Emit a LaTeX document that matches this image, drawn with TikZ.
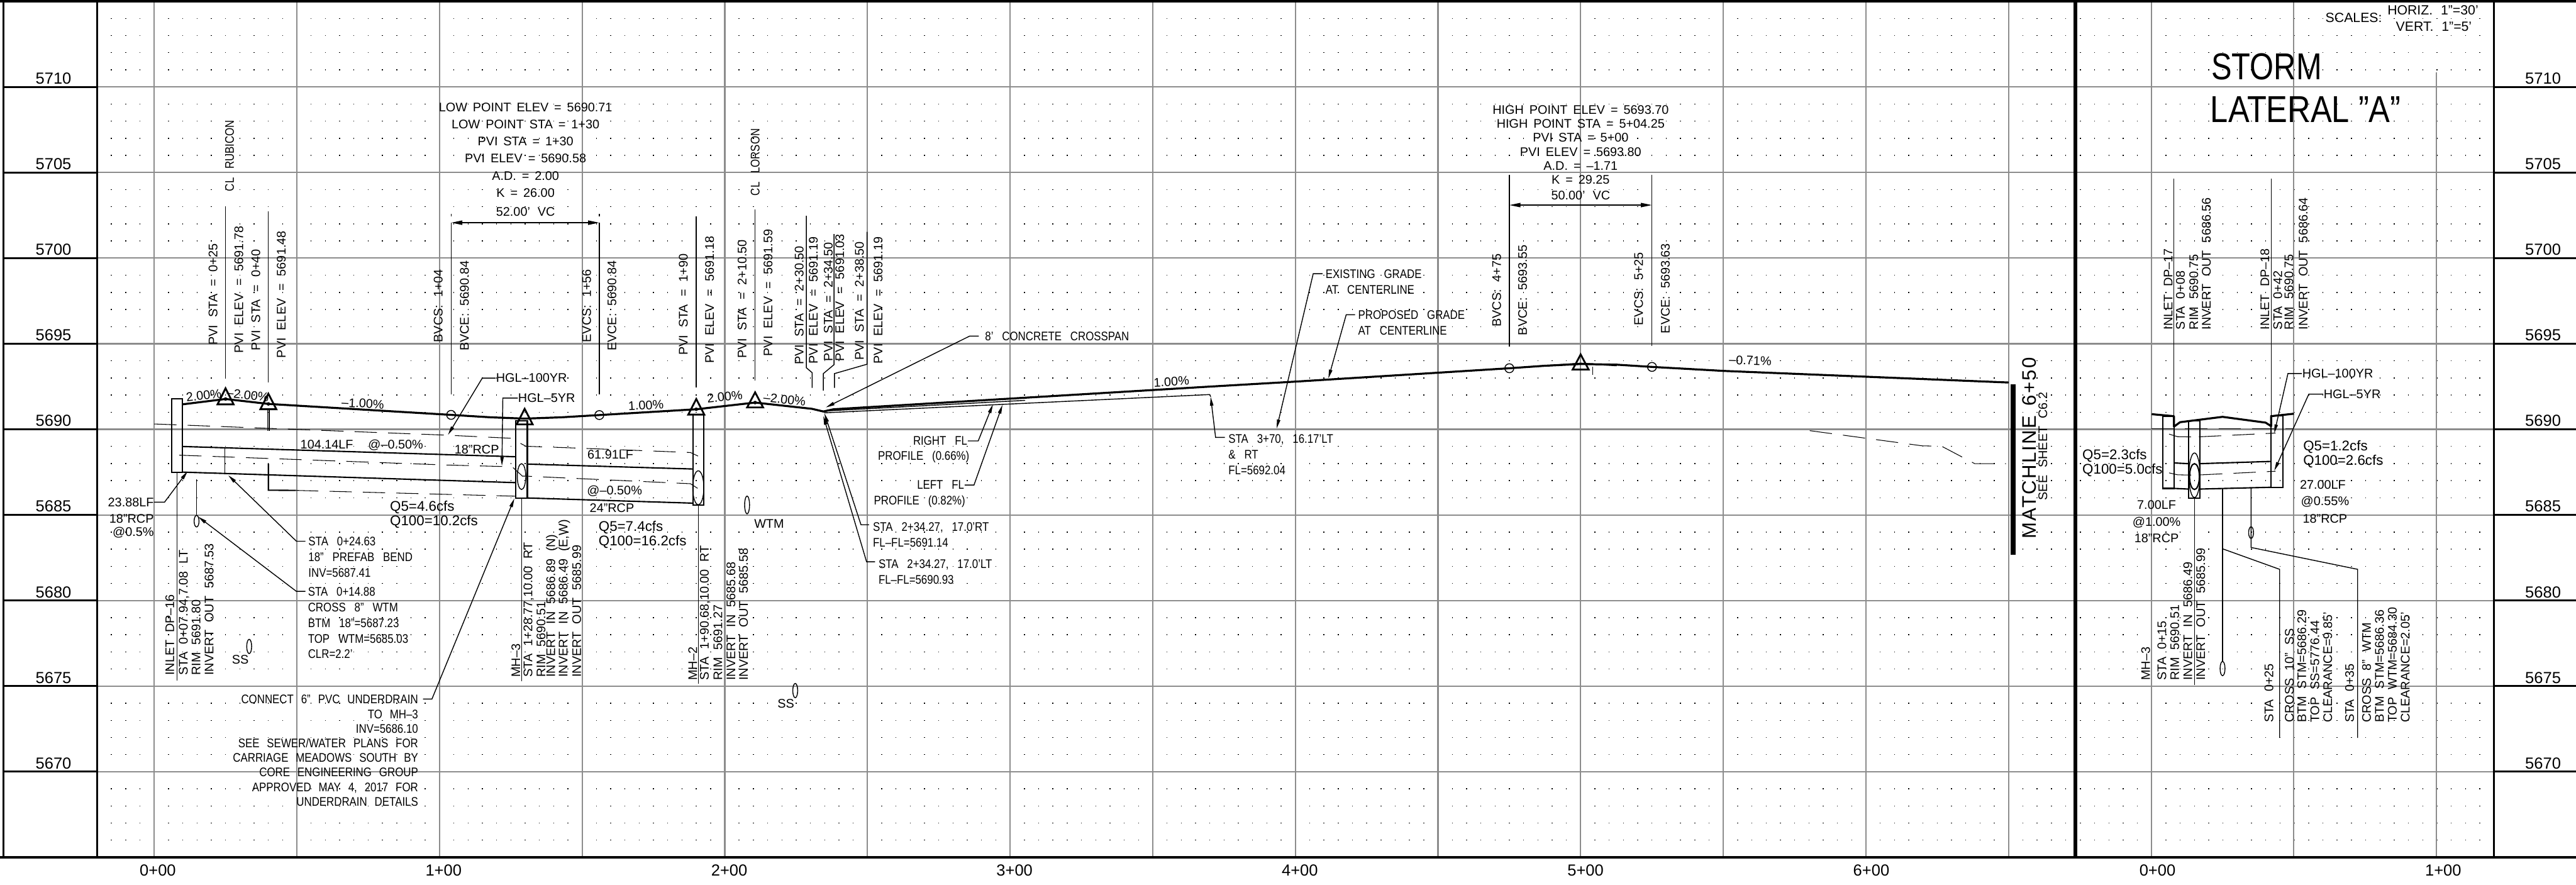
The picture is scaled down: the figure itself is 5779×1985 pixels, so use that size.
\documentclass[tikz,border=0pt]{standalone}
\usepackage{fontspec}
\setmainfont{Liberation Sans}
\newfontfamily\capsfont[FakeStretch=0.85]{Liberation Sans}
\newfontfamily\matchfont[LetterSpace=7]{Liberation Sans}
\usetikzlibrary{arrows.meta}
\definecolor{gridgray}{HTML}{8C8C8C}
\newcommand{\smalltext}{\fontsize{5.6}{7}\selectfont\spaceskip=.6em\relax}
\newcommand{\capstext}{\capsfont\fontsize{5.6}{7}\selectfont\spaceskip=.7em\relax}
\newcommand{\flowtext}{\fontsize{6.3}{6.5}\selectfont}
\newcommand{\wideleadtext}{\fontsize{5.6}{7.65}\selectfont\spaceskip=.45em\relax}
\newcommand{\highpttext}{\fontsize{5.6}{6.3}\selectfont\spaceskip=.45em\relax}
\newcommand{\connecttext}{\capsfont\fontsize{5.6}{6.55}\selectfont\spaceskip=.6em\relax}
\newcommand{\scaletext}{\fontsize{7.2}{8}\selectfont}
\newcommand{\titletext}{\fontsize{16.8}{20}\selectfont}
\newcommand{\matchtext}{\matchfont\fontsize{8.8}{10}\selectfont\spaceskip=.5em\relax}
\newcommand{\hscaletext}{\fontsize{6}{7}\selectfont\spaceskip=.6em\relax}
\tikzset{
    gridline/.style ={draw=gridgray, line width=.6pt},
    frameline/.style ={draw=black, line width=.9pt},
    dotrow/.style ={line width=.4pt, dash pattern=on .4pt off 6pt},
    profile/.style ={line width=.9pt, line join=round},
    pipe/.style ={line width=.6pt},
    tagline/.style ={line width=.4pt},
    hgl/.style ={line width=.3pt, dash pattern=on 10pt off 5pt},
    leader/.style ={line width=.4pt, -{Stealth[length=4pt,width=1.5pt,inset=0pt]}},
    dimline/.style ={line width=.5pt, {Stealth[length=5pt,width=1.9pt,inset=0pt]}-{Stealth[length=5pt,width=1.9pt,inset=0pt]}},
    vlabel/.style ={anchor=west, rotate=90, inner sep=0pt, font=\smalltext},
    lbl/.style ={anchor=west, inner sep=0pt, font=\smalltext},
    lblr/.style ={anchor=east, inner sep=0pt, font=\smalltext},
    lblc/.style ={inner sep=0pt, font=\smalltext},
    note/.style ={anchor=north west, inner sep=0pt, align=left, font=\capstext},
    flow/.style ={anchor=west, inner sep=0pt, font=\flowtext},
    scalelbl/.style ={inner sep=0pt, font=\scaletext}
}
\begin{document}
\begin{tikzpicture}[x=0.2pt,y=-0.2pt]
    \useasboundingbox (0,0) rectangle (5779,1985);
    \fill[white] (0,0) rectangle (5779,1985);
    \foreach \j in {0,...,48} {
        \draw[dotrow] (249,{41.4+38.4*\j})--(4640,{41.4+38.4*\j});
        \draw[dotrow] (4666,{41.4+38.4*\j})--(5570,{41.4+38.4*\j});
    }
    \foreach \gx in {346,666,...,4506,4827,5146} \draw[gridline] (\gx,4)--(\gx,1923);
    \draw[gridline] (5466,162)--(5466,1923);
    \foreach \gy in {195,387,579,771,963,1155,1347,1539,1731} \draw[gridline] (218,\gy)--(5595,\gy);
    \foreach \gy in {195,387,579,771,963,1155,1347,1539,1731} {
        \draw[frameline] (8,\gy)--(218,\gy);
        \draw[frameline] (5595,\gy)--(5779,\gy);
    }
    \draw[draw=black,line width=1.2pt] (0,3)--(5779,3);
    \draw[frameline] (0,1923)--(5779,1923);
    \draw[frameline] (8,3)--(8,1923);
    \draw[frameline] (218,3)--(218,1923);
    \draw[frameline] (5595,3)--(5595,1923);
    \draw[draw=black,line width=1.6pt] (4656,3)--(4656,1923);
    \foreach \ev/\ey in {5710/176,5705/368,5700/560,5695/752,5690/944,5685/1136,5680/1328,5675/1520,5670/1712} {
        \node[scalelbl] (L\ev) at(120,\ey) {\ev};
        \node[scalelbl] (R\ev) at(5705,\ey) {\ev};
    }
    \node[scalelbl] (ST0) at(354,1952) {0+00};
    \node[scalelbl] (ST1) at(995,1952) {1+00};
    \node[scalelbl] (ST2) at(1636,1952) {2+00};
    \node[scalelbl] (ST3) at(2276,1952) {3+00};
    \node[scalelbl] (ST4) at(2916,1952) {4+00};
    \node[scalelbl] (ST5) at(3557,1952) {5+00};
    \node[scalelbl] (ST6) at(4198,1952) {6+00};
    \node[scalelbl] (STR0) at(4840,1952) {0+00};
    \node[scalelbl] (STR1) at(5481,1952) {1+00};

    \draw[profile] (409,907)--(506,895)--(602,906)--(1012,930.6)--(1100,936)--(1177,939)--(1260,936)--(1344.5,931)--(1562,918)--(1694,903)--(1821.5,917)--(1847,923)--(1870,918)--(2700,868)--(2906,856)--(3386,826)--(3465,820.5)--(3546,816.5)--(3627,818)--(3706,823)--(3867,832)--(4506,858);
    \draw[pipe] (3465,820.6)--(3546,815)--(3627,820);
    \draw[tagline] (3573,823)--(3573,841);
    \draw[tagline] (1849,926)--(2714,885)--(2716,890);
    \draw[tagline] (1849,922)--(2300,898);
    \foreach \mx/\ma/\mb in {506/871/907,602/883/918,1177/917/952,1562/895/930,1694/880/914,3546/795/829} {
        \draw[pipe,line width=.8pt] (\mx-18,\mb)--(\mx,\ma)--(\mx+18,\mb)--cycle;
    }
    \foreach \mx/\my in {506/895,602/906,1562/918,1694/903} \fill (\mx,\my) circle[radius=4];
    \foreach \mx/\my in {1012/930.6,1344.5/931,3386/826,3706/823} \draw[tagline] (\mx,\my) circle[radius=10];

    \draw[pipe] (385,894) rectangle (409,1059);
    \draw[pipe] (409,1001.5)--(1157,1024.5);
    \draw[pipe] (409,1059)--(1157,1082.6);
    \draw[tagline] (504,1005)--(504,1062);
    \draw[pipe] (1157,944) rectangle (1183,1117);
    \draw[pipe] (1183,1041)--(1554.5,1052);
    \draw[pipe] (1183,1117)--(1554.5,1128.6);
    \draw[pipe] (1554.5,930) rectangle (1579,1133);
    \draw[tagline] (1170,1069) ellipse[x radius=9.5,y radius=29];
    \draw[tagline] (1566.5,1094) ellipse[x radius=12.5,y radius=38];
    \draw[tagline] (600,918)--(600,967);
    \draw[tagline] (604,918)--(604,967);
    \draw[pipe] (602,1040)--(602,1099.5)--(664,1100);
    \draw[hgl] (664,1100)--(1157,1113);
    \draw[hgl] (346,951)--(1000,976)--(1145.5,983)--(1180,1001)--(1279,1004.5)--(1447,1011)--(1549,1015)--(1566,1023);
    \draw[hgl] (402,1021)--(1000,1043)--(1149,1047)--(1172,1068)--(1180,1068)--(1549,1085)--(1566,1096);
    \draw[hgl] (4060,966)--(4312,1000)--(4356,1001)--(4430,1040)--(4500,1040);

    \node[lblc,rotate=7] (G1) at(457,887) {2.00\%};
    \node[lblc,rotate=-7] (G2) at(556,886) {–2.00\%};
    \node[lblc,rotate=-3] (G3) at(814,905) {–1.00\%};
    \node[lblc,rotate=3] (G4) at(1449,909) {1.00\%};
    \node[lblc,rotate=6] (G5) at(1626,890) {2.00\%};
    \node[lblc,rotate=-6] (G6) at(1760,896) {–2.00\%};
    \node[lblc,rotate=3] (G7) at(2628,856) {1.00\%};
    \node[lbl,rotate=-2] (G8) at(3878,807) {–0.71\%};

    \node[vlabel,font=\capstext] (CLRUB) at(515,430) {CL RUBICON};
    \node[vlabel] (PS025) at(478,775) {PVI STA = 0+25};
    \draw[tagline] (506,463)--(506,848);
    \node[vlabel] (PE025) at(536,793) {PVI ELEV = 5691.78};
    \node[vlabel] (PS040) at(574,787) {PVI STA = 0+40};
    \draw[tagline] (602,474)--(602,858);
    \node[vlabel] (PE040) at(631,804) {PVI ELEV = 5691.48};
    \node[vlabel] (BV104) at(983,769) {BVCS: 1+04};
    \node[vlabel] (BE104) at(1042,788) {BVCE: 5690.84};
    \draw[tagline] (1012,480)--(1012,486);
    \draw[tagline] (1012,499.5)--(1012,884);
    \draw[tagline] (1344.5,480)--(1344.5,486);
    \draw[tagline] (1344.5,499.5)--(1344.5,884);
    \draw[dimline] (1012,499.5)--(1344.5,499.5);
    \node[vlabel] (EV156) at(1316,769) {EVCS: 1+56};
    \node[vlabel] (EE156) at(1373,788) {EVCE: 5690.84};
    \node[vlabel] (PS190) at(1533,798) {PVI STA = 1+90};
    \draw[tagline] (1562,486)--(1562,869);
    \node[vlabel] (PE190) at(1592,816) {PVI ELEV = 5691.18};
    \node[vlabel,font=\capstext] (CLLOR) at(1694,440) {CL LORSON};
    \node[vlabel] (PS210) at(1665,805) {PVI STA = 2+10.50};
    \draw[tagline] (1694,470)--(1694,854);
    \node[vlabel] (PE210) at(1723,800) {PVI ELEV = 5691.59};
    \node[vlabel] (PS230) at(1793,819) {PVI STA = 2+30.50};
    \draw[tagline] (1809,484)--(1809,825)--(1822,836)--(1822,870);
    \node[vlabel] (PE230) at(1824.5,817) {PVI ELEV = 5691.19};
    \node[vlabel] (PS234) at(1858,811) {PVI STA = 2+34.50};
    \draw[tagline] (1871,525)--(1871,818)--(1847,838)--(1847,876);
    \node[vlabel] (PE234) at(1884,811) {PVI ELEV = 5691.03};
    \node[vlabel] (PS238) at(1928,809) {PVI STA = 2+38.50};
    \draw[tagline] (1945,520)--(1945,817)--(1872,838)--(1872,870);
    \node[vlabel] (PE238) at(1970,817) {PVI ELEV = 5691.19};
    \node[vlabel] (BV475) at(3357.5,734) {BVCS: 4+75};
    \draw[tagline] (3386,392)--(3386,778);
    \node[vlabel] (BE475) at(3415.6,753) {BVCE: 5693.55};
    \node[vlabel] (EV525) at(3676,731) {EVCS: 5+25};
    \draw[tagline] (3706,392)--(3706,776);
    \node[vlabel] (EE525) at(3736,749) {EVCE: 5693.63};
    \draw[dimline] (3386,460)--(3706,460);

    \node[inner sep=0pt,anchor=north,align=center,font=\wideleadtext] (LOWPT) at(1179,230) {LOW POINT ELEV = 5690.71\\LOW POINT STA = 1+30\\PVI STA = 1+30\\PVI ELEV = 5690.58\\A.D. = 2.00\\K = 26.00};
    \node[lblc] (VC52) at(1179,475.5) {52.00’ VC};
    \node[inner sep=0pt,anchor=north,align=center,font=\highpttext] (HIGHPT) at(3546,235) {HIGH POINT ELEV = 5693.70\\HIGH POINT STA = 5+04.25\\PVI STA = 5+00\\PVI ELEV = 5693.80\\A.D. = –1.71\\K = 29.25};
    \node[lblc] (VC50) at(3546,438) {50.00’ VC};

    \coordinate (HGL100) at(1005,975.5);
    \coordinate (HGL5) at(1126,1045);
    \node[lbl] (HGLA) at(1112,848) {HGL–100YR};
    \node[lbl] (HGLB) at(1161.5,893) {HGL–5YR};
    \draw[leader] (HGLA.west)--(1082,848)--(HGL100);
    \draw[leader] (HGLB.west)--(1128,893)--(HGL5);
    \node[lbl] (LF104) at(673,998) {104.14LF\ \ @–0.50\%};
    \node[lbl] (RCP18) at(1019,1009) {18”RCP};
    \node[lbl] (LF61) at(1317,1019) {61.91LF};
    \node[lbl] (SL050) at(1316,1102) {@–0.50\%};
    \node[lbl] (RCP24) at(1322,1140) {24”RCP};
    \node[flow] (Q46) at(874,1138) {Q5=4.6cfs};
    \node[flow] (Q102) at(874,1171) {Q100=10.2cfs};
    \node[flow] (Q74) at(1342,1183) {Q5=7.4cfs};
    \node[flow] (Q162) at(1342,1215) {Q100=16.2cfs};
    \node[lblr] (LF23) at(346,1126.5) {23.88LF};
    \node[lblr] (RCP18A) at(346,1163) {18”RCP};
    \node[lblr] (SL05) at(346,1195) {@0.5\%};
    \coordinate (INLETPIPE) at(421,1057);
    \draw[leader] (LF23.east)--(369,1126.5)--(INLETPIPE);
    \draw[tagline] (397,1059)--(397,1527);
    \draw[tagline] (441,1075.5)--(441,1155.6);
    \draw[tagline] (441,1169) ellipse[x radius=5.5,y radius=13];
    \node[note] (BEND) at(691,1204) {STA 0+24.63\\18” PREFAB BEND\\INV=5687.41};
    \coordinate (BENDPT) at(512,1066);
    \draw[leader] (BEND.north west)++(-6,10)--++(-20,0)--(BENDPT);
    \node[note] (CROSS8) at(690,1316.5) {STA 0+14.88\\CROSS 8” WTM\\BTM 18”=5687.23\\TOP WTM=5685.03\\CLR=2.2’};
    \coordinate (CROSSPT) at(444.5,1159);
    \draw[leader] (CROSS8.north west)++(-5,10)--++(-20,0)--(CROSSPT);
    \node[vlabel] (INL16) at(381,1516) {INLET DP–16};
    \node[vlabel] (INL16A) at(413,1516) {STA 0+07.94,7.08 LT};
    \node[vlabel] (INL16B) at(440,1516) {RIM 5691.80};
    \node[vlabel] (INL16C) at(469,1516) {INVERT OUT 5687.53};
    \node[lblc] (SSA) at(539,1480) {SS};
    \draw[tagline] (559,1450) ellipse[x radius=5.5,y radius=16];
    \node[inner sep=0pt,anchor=north east,align=right,font=\connecttext] (UNDER) at(939,1558) {CONNECT 6” PVC UNDERDRAIN\\TO MH–3\\INV=5686.10\\SEE SEWER/WATER PLANS FOR\\CARRIAGE MEADOWS SOUTH BY\\CORE ENGINEERING GROUP\\APPROVED MAY 4, 2017 FOR\\UNDERDRAIN DETAILS};
    \coordinate (UNDERPT) at(1154,1118);
    \draw[leader] (UNDER.north east)++(10,10)--++(20,0)--(UNDERPT);
    \node[vlabel] (MH3) at(1157.5,1520) {MH–3};
    \draw[tagline] (1170,1117)--(1170,1528);
    \node[vlabel] (MH3A) at(1186,1520) {STA 1+28.77,10.00 RT};
    \node[vlabel] (MH3B) at(1213.6,1520) {RIM 5690.51};
    \node[vlabel] (MH3C) at(1238,1520) {INVERT IN 5686.89 (N)};
    \node[vlabel] (MH3D) at(1266,1520) {INVERT IN 5686.49 (E,W)};
    \node[vlabel] (MH3E) at(1294,1520) {INVERT OUT 5685.99};
    \node[vlabel] (MH2) at(1554,1527) {MH–2};
    \draw[tagline] (1566.5,1133)--(1566.5,1533);
    \node[vlabel] (MH2A) at(1582,1527) {STA 1+90.68,10.00 RT};
    \node[vlabel] (MH2B) at(1610.6,1527) {RIM 5691.27};
    \node[vlabel] (MH2C) at(1640,1527) {INVERT IN 5685.68};
    \node[vlabel] (MH2D) at(1668,1527) {INVERT OUT 5685.58};
    \node[lbl] (WTM) at(1691,1175) {WTM};
    \draw[tagline] (1676,1132.6) ellipse[x radius=5.5,y radius=20];
    \node[lblc] (SSB) at(1763,1579) {SS};
    \draw[tagline] (1784,1549) ellipse[x radius=5.5,y radius=16];

    \coordinate (CROSSPAN) at(1852.5,914);
    \node[lbl,font=\capstext] (CONC) at(2209,754) {8’ CONCRETE CROSSPAN};
    \draw[leader] (CONC.west)++(-13,0)--(2175,754)--(CROSSPAN);
    \coordinate (RIGHTPT) at(2227.5,907);
    \coordinate (LEFTPT) at(2249,908);
    \node[lblr,font=\capstext] (RFL) at(2171,989) {RIGHT FL};
    \node[lblr,font=\capstext] (RPROF) at(2175.6,1025) {PROFILE (0.66\%)};
    \node[lblr,font=\capstext] (LFL) at(2164,1088) {LEFT FL};
    \node[lblr,font=\capstext] (LPROF) at(2166.5,1124.5) {PROFILE (0.82\%)};
    \draw[leader] (RFL.east)--(2194.5,989)--(RIGHTPT);
    \draw[leader] (LFL.east)--(2185,1088)--(LEFTPT);
    \coordinate (RTPT) at(1849.5,927);
    \coordinate (LTPT) at(1847,933);
    \node[note] (RT234) at(1957.5,1171) {STA 2+34.27, 17.0’RT\\FL–FL=5691.14};
    \node[note] (LT234) at(1970,1254) {STA 2+34.27, 17.0’LT\\FL–FL=5690.93};
    \draw[leader] (RT234.north west)++(-8,6)--(1931.5,1177)--(RTPT);
    \draw[leader] (LT234.north west)++(-7,6)--(1944,1260)--(LTPT);
    \coordinate (FLPT) at(2716,890);
    \node[note] (STA370) at(2755,974) {STA 3+70, 16.17’LT\\\& RT\\FL=5692.04};
    \draw[leader] (STA370.north west)++(-7,7)--(2727,981)--(FLPT);
    \coordinate (EXPT) at(2864,961);
    \coordinate (PROPPT) at(2980,849);
    \node[note] (EXIST) at(2973,604) {EXISTING GRADE\\AT CENTERLINE};
    \node[note] (PROP) at(3046,696) {PROPOSED GRADE\\AT CENTERLINE};
    \draw[leader] (EXIST.north west)++(-6,10)--(2946,614)--(EXPT);
    \draw[leader] (PROP.north west)++(-6,10)--(3020,706)--(PROPPT);

    \draw[line width=2.2pt] (4516,861.5)--(4516,1245);
    \node[vlabel,font=\matchtext] (MATCH) at(4552,1209) {MATCHLINE 6+50};
    \node[vlabel] (SEESH) at(4583,1123) {SEE SHEET C6.2};

    \draw[profile] (4827,929)--(4877,933.5)--(4877,957)--(4890.7,947)--(4986,935)--(5082.7,948)--(5095,956)--(5095,933.5)--(5146,928);
    \draw[pipe] (4852,934) rectangle (4877,1095.5);
    \draw[pipe] (5095,933) rectangle (5121.5,1093);
    \draw[pipe] (4909.5,944) rectangle (4935,1117.4);
    \draw[pipe] (4877,1038.4)--(4909.5,1040);
    \draw[pipe] (4935,1040)--(5095,1035);
    \draw[pipe] (4877,1095.5)--(4909.5,1097);
    \draw[pipe] (4935,1097)--(5095,1093);
    \draw[pipe] (4923,1069) ellipse[x radius=11,y radius=29];
    \draw[tagline] (4923,1066) ellipse[x radius=12.5,y radius=50];
    \draw[hgl] (4866,973.7)--(4885,979.5)--(4916,980)--(4923,988)--(4930,980)--(5105,971.4);
    \draw[hgl] (4866,1060.7)--(4885,1065)--(4916,1065.6)--(4923,1072)--(4930,1065.5)--(5105,1057);
    \draw[hgl] (4827,961)--(5146,961);
    \draw[tagline] (4877,401)--(4877,1095.5);
    \draw[tagline] (5095,401)--(5095,1093);
    \draw[tagline] (4923,1117)--(4923,1536);
    \draw[tagline] (4986,1096)--(4986,1483);
    \draw[tagline] (4986,1499.6) ellipse[x radius=5.5,y radius=16];
    \draw[tagline] (4986,1231)--(5114,1277)--(5114,1655);
    \draw[tagline] (5050,1094)--(5050,1228)--(5289,1277)--(5289,1655);
    \draw[tagline] (5050,1194.6) ellipse[x radius=5.5,y radius=13];
    \node[vlabel] (INL17) at(4864,740.5) {INLET DP–17};
    \node[vlabel] (INL17A) at(4891.6,740.5) {STA 0+08};
    \node[vlabel] (INL17B) at(4921.5,740.5) {RIM 5690.75};
    \node[vlabel] (INL17C) at(4949.6,740.5) {INVERT OUT 5686.56};
    \node[vlabel] (INL18) at(5081,740.5) {INLET DP–18};
    \node[vlabel] (INL18A) at(5110,740.5) {STA 0+42};
    \node[vlabel] (INL18B) at(5135,740.5) {RIM 5690.75};
    \node[vlabel] (INL18C) at(5167,740.5) {INVERT OUT 5686.64};
    \coordinate (RHGLA) at(5102,972);
    \coordinate (RHGLB) at(5102,1056);
    \node[lbl] (HGLC) at(5164,838) {HGL–100YR};
    \node[lbl] (HGLD) at(5212,884) {HGL–5YR};
    \draw[leader] (HGLC.west)--(5132.7,838)--(RHGLA);
    \draw[leader] (HGLD.west)--(5179.5,884)--(RHGLB);
    \node[vlabel] (MH3R) at(4813.5,1527) {MH–3};
    \node[vlabel] (MH3RA) at(4850,1527) {STA 0+15};
    \node[vlabel] (MH3RB) at(4879,1527) {RIM 5690.51};
    \node[vlabel] (MH3RC) at(4908,1527) {INVERT IN 5686.49};
    \node[vlabel] (MH3RD) at(4937,1527) {INVERT OUT 5685.99};
    \node[vlabel] (XA) at(5090,1622) {STA 0+25};
    \node[vlabel] (XB) at(5136,1622) {CROSS 10” SS};
    \node[vlabel] (XC) at(5164,1622) {BTM STM=5686.29};
    \node[vlabel] (XD) at(5193,1622) {TOP SS=5776.44};
    \node[vlabel] (XE) at(5222,1622) {CLEARANCE=9.85’};
    \node[vlabel] (YA) at(5271,1622) {STA 0+35};
    \node[vlabel] (YB) at(5309,1622) {CROSS 8” WTM};
    \node[vlabel] (YC) at(5338,1622) {BTM STM=5686.36};
    \node[vlabel] (YD) at(5367,1622) {TOP WTM=5684.30};
    \node[vlabel] (YE) at(5396,1622) {CLEARANCE=2.05’};
    \node[flow] (Q23) at(4670.7,1022) {Q5=2.3cfs};
    \node[flow] (Q50) at(4670.7,1054) {Q100=5.0cfs};
    \node[lblc] (LF7) at(4838,1132) {7.00LF};
    \node[lblc] (SL1) at(4838,1172) {@1.00\%};
    \node[lblc] (RCP18B) at(4838,1207) {18”RCP};
    \node[flow] (Q12) at(5166,1003) {Q5=1.2cfs};
    \node[flow] (Q26) at(5166,1035) {Q100=2.6cfs};
    \node[lbl] (LF27) at(5158.6,1087.5) {27.00LF};
    \node[lbl] (SL55) at(5161,1125) {@0.55\%};
    \node[lbl] (RCP18C) at(5165,1164) {18”RCP};

    \node[anchor=west,inner sep=0pt,font=\hscaletext] (SCALES) at(5216,40) {SCALES:};
    \node[anchor=west,inner sep=0pt,font=\hscaletext] (HORIZ) at(5355,23) {HORIZ. 1”=30’};
    \node[anchor=west,inner sep=0pt,font=\hscaletext] (VERT) at(5374,60) {VERT. 1”=5’};
    \node[anchor=west,inner sep=0pt,font=\titletext] (TITLEA) at(4960,150) {\scalebox{.82}[1]{STORM}};
    \node[anchor=west,inner sep=0pt,font=\titletext] (TITLEB) at(4958,246) {\scalebox{.85}[1]{LATERAL "A"}};
\end{tikzpicture}
\end{document}
